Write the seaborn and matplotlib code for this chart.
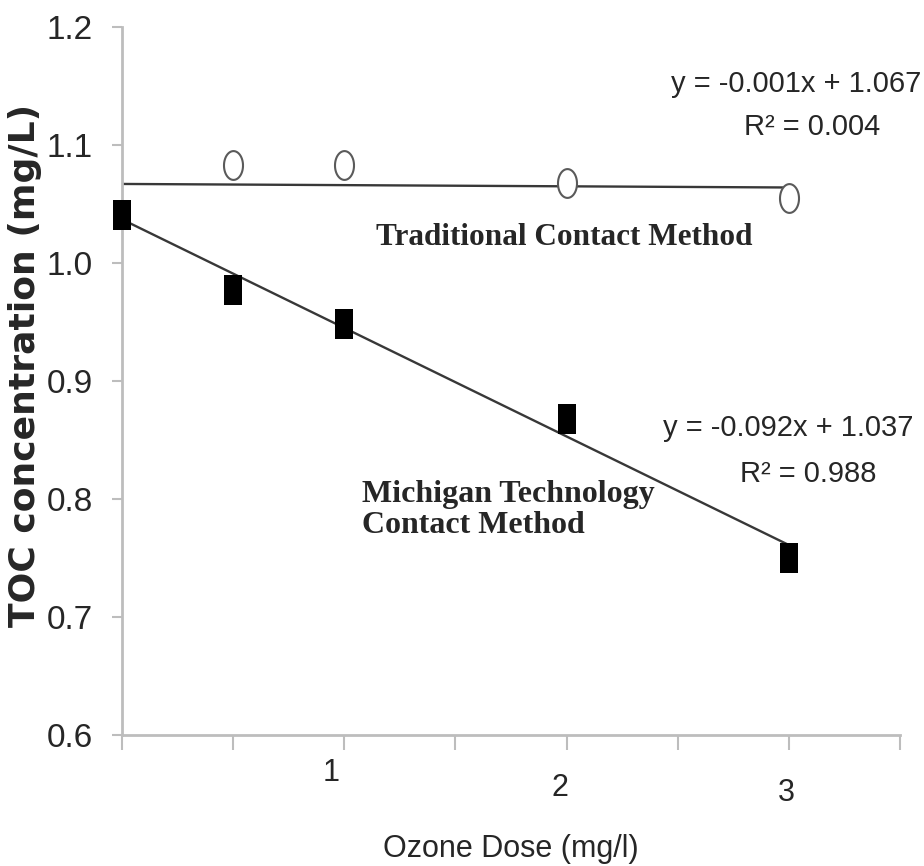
import numpy as np
import matplotlib
matplotlib.use("Agg")
import matplotlib.pyplot as plt
import seaborn as sns

# values
dose_michigan = [0, 0.5, 1, 2, 3]
toc_michigan = [1.041, 0.977, 0.948, 0.868, 0.750]
dose_traditional = [0.5, 1, 2, 3]
toc_traditional = [1.083, 1.083, 1.068, 1.055]

fit_michigan = (-0.092, 1.037)
fit_traditional = (-0.001, 1.067)
eq_michigan = ["y = -0.092x + 1.037", "R² = 0.988"]
eq_traditional = ["y = -0.001x + 1.067", "R² = 0.004"]

yticks = [0.6, 0.7, 0.8, 0.9, 1.0, 1.1, 1.2]
xticks = [0, 0.5, 1, 1.5, 2, 2.5, 3, 3.5]
xtick_labels = ["1", "2", "3"]

sns.set_style("ticks")
plt.rcParams["font.family"] = ["Liberation Sans", "DejaVu Sans"]

fig = plt.figure(figsize=(9.24, 8.66), dpi=100)
ax = fig.add_axes([0.132, 0.1513, 0.842, 0.8175])

# trend lines from the printed equations, over the data range
fit_x = np.array([0, 3])
for slope, icpt in [fit_traditional, fit_michigan]:
    sns.lineplot(x=fit_x, y=slope * fit_x + icpt, color="#383838",
                 linewidth=1.7, ax=ax, zorder=1)

# tall markers (the source image is stretched vertically)
rect = [(-0.3, -0.5), (0.3, -0.5), (0.3, 0.5), (-0.3, 0.5), (-0.3, -0.5)]
t = np.linspace(0, 2 * np.pi, 80)
ellipse = list(zip(0.33 * np.cos(t), 0.5 * np.sin(t)))

sns.scatterplot(x=dose_traditional, y=toc_traditional, marker=ellipse, s=430,
                color="white", edgecolor="#5a5a5a", linewidth=1.5, ax=ax,
                zorder=3, clip_on=False)
sns.scatterplot(x=dose_michigan, y=toc_michigan, marker=rect, s=470,
                color="black", edgecolor="black", linewidth=0, ax=ax,
                zorder=3, clip_on=False)

ax.set_xlim(0, 3.5)
ax.set_ylim(0.6, 1.2)
ax.set_yticks(yticks)
ax.set_yticklabels([f"{v:.1f}" for v in yticks], fontsize=24)
ax.set_xticks(xticks)
ax.set_xticklabels([])
ax.tick_params(axis="y", length=7, width=1.5, color="#bdbdbd", pad=14)
ax.tick_params(axis="x", length=11, width=1.5, color="#bdbdbd")
sns.despine(ax=ax)
for side in ["left", "bottom"]:
    ax.spines[side].set_color("#bdbdbd")
    ax.spines[side].set_linewidth(2)

# staggered x tick labels as in the original
trans = ax.get_xaxis_transform()
for lab, xpos, ypos in zip(xtick_labels, [0.94, 1.97, 2.99], [-0.054, -0.075, -0.082]):
    ax.text(xpos, ypos, lab, transform=trans, ha="center", va="center", fontsize=22)

fig.text(0.553, 0.0196, "Ozone Dose (mg/l)", ha="center", va="center", fontsize=22)
fig.text(0.027, 0.5785, "TOC concentration (mg/L)", rotation=90, ha="center",
         va="center", fontsize=26, fontweight="bold", fontfamily="DejaVu Sans")

ax.text(1.028, 0.919, eq_traditional[0], transform=ax.transAxes, ha="right",
        va="center", fontsize=21)
ax.text(0.887, 0.859, eq_traditional[1], transform=ax.transAxes, ha="center",
        va="center", fontsize=21)
ax.text(1.017, 0.434, eq_michigan[0], transform=ax.transAxes, ha="right",
        va="center", fontsize=21)
ax.text(0.882, 0.369, eq_michigan[1], transform=ax.transAxes, ha="center",
        va="center", fontsize=21)

ax.text(0.3265, 0.702, "Traditional Contact Method", transform=ax.transAxes,
        ha="left", va="center", fontsize=22.5, fontweight="bold",
        fontfamily="Liberation Serif")
ax.text(0.3085, 0.318, "Michigan Technology\nContact Method", transform=ax.transAxes,
        ha="left", va="center", fontsize=23, fontweight="bold",
        fontfamily="Liberation Serif", linespacing=1.1)

fig.savefig("out.png", dpi=100)
